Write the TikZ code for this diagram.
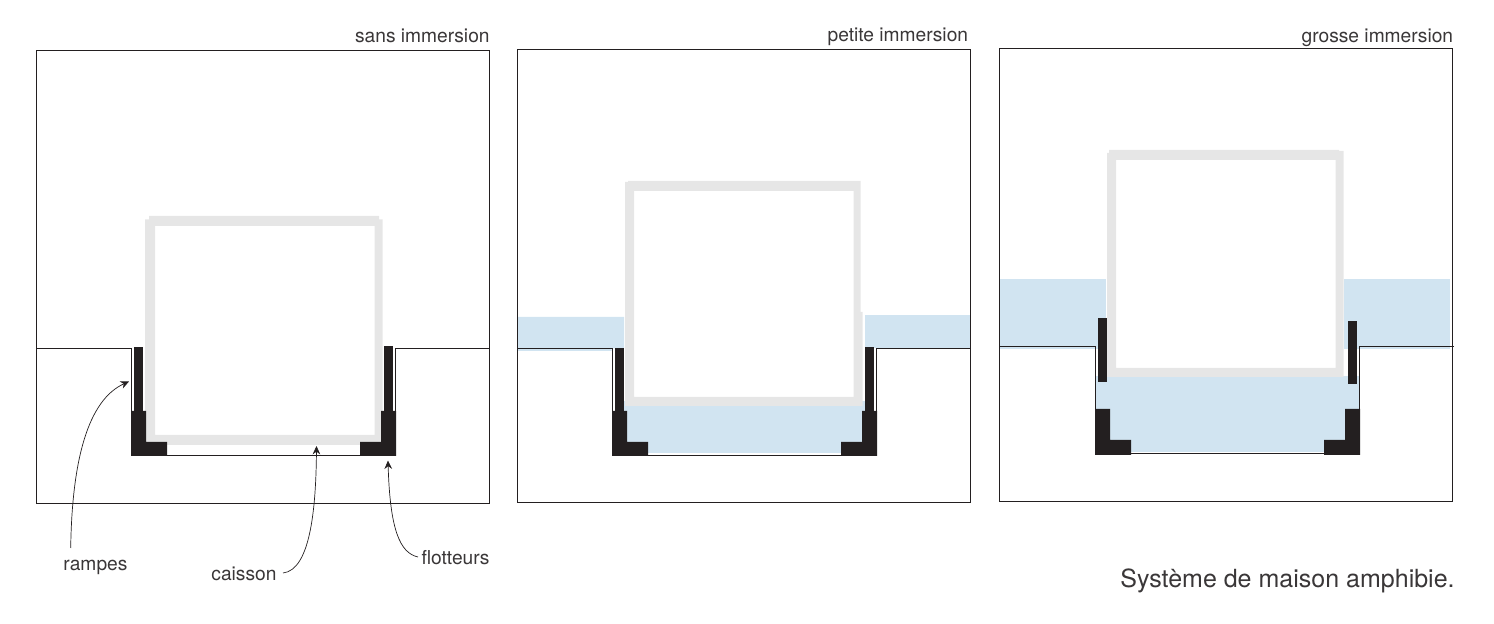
\documentclass[tikz,border=0pt]{standalone}
\usepackage{fontspec}
\setmainfont{TeX Gyre Heros}
\usetikzlibrary{arrows.meta}
\definecolor{ink}{HTML}{231F20}
\definecolor{wall}{HTML}{E6E6E6}
\definecolor{water}{HTML}{D1E4F1}
\definecolor{txt}{HTML}{3A3738}
\tikzset{
  framebox/.style={draw=ink,line width=0.55pt},
  ground/.style={draw=ink,line width=0.55pt},
  solid part/.style={fill=ink,draw=none},
  waterfill/.style={fill=water,draw=none},
  caissonfill/.style={fill=wall,draw=none,even odd rule},
  label/.style={font=\fontsize{9.6pt}{11pt}\selectfont,text=txt,inner sep=0pt,anchor=base},
  title/.style={font=\fontsize{9.6pt}{11pt}\selectfont,text=txt,inner sep=0pt,anchor=base east},
  pointer/.style={draw=ink,line width=0.35pt,-{Stealth[length=4.2pt,width=3.8pt]}},
}
\begin{document}
\begin{tikzpicture}[x=0.5pt,y=-0.5pt]
\useasboundingbox (0,0) rectangle (1494,624);
% ---- panel 1
\draw[framebox] (36.5,50.5) rectangle (489.5,503.5);
\draw[ground] (36.5,348.5) -- (131.5,348.5) -- (131.5,455.5) -- (395.5,455.5) -- (395.5,348.5) -- (489.5,348.5);
\fill[caissonfill] (149,216) -- (379,216) -- (379,219.5) -- (382.5,219.5) -- (382.5,445) -- (145,445) -- (145,219.5) -- (149,219.5) -- cycle
  (155,226) -- (155,435) -- (374.5,435) -- (374.5,226) -- cycle;
\fill[solid part] (134,347.5) rectangle (143,411);
\fill[solid part] (384,346.5) rectangle (393.3,411);
\fill[solid part] (131.3,411) -- (146,411) -- (146,442) -- (167,442) -- (167,456) -- (131.3,456) -- cycle;
\fill[solid part] (396,411) -- (381,411) -- (381,442) -- (360,442) -- (360,456) -- (396,456) -- cycle;
% ---- panel 2
\fill[waterfill] (517.5,317) -- (624,317) -- (624,348.5) -- (611.7,348.5) -- (611.7,351) -- (517.5,351) -- cycle;
\fill[waterfill] (865,315) rectangle (970.5,348.5);
\fill[waterfill] (624,401) rectangle (865,453);
\draw[framebox] (517.5,49.5) rectangle (970.5,502.5);
\draw[ground] (517.5,348.5) -- (612.5,348.5) -- (612.5,455.5) -- (876.5,455.5) -- (876.5,348.5) -- (970.5,348.5);
\fill[caissonfill] (628,181) -- (860.7,181) -- (860.7,312) -- (862.7,312) -- (862.7,406) -- (625,406) -- (625,182) -- (628,182) -- cycle
  (634,191) -- (634,397) -- (853.5,397) -- (853.5,191) -- cycle;
\fill[solid part] (615,348) rectangle (624,411);
\fill[solid part] (865,347) rectangle (874,411);
\fill[solid part] (612.3,411) -- (627,411) -- (627,442) -- (648,442) -- (648,456) -- (612.3,456) -- cycle;
\fill[solid part] (877,411) -- (862,411) -- (862,442) -- (841,442) -- (841,456) -- (877,456) -- cycle;
% ---- panel 3
\fill[waterfill] (999.7,279) rectangle (1106,349);
\fill[waterfill] (1344,279) rectangle (1450,349);
\fill[waterfill] (1095.7,376) rectangle (1359.3,452.3);
\draw[framebox] (999.5,48.5) rectangle (1452.5,501.5);
\draw[ground] (999.5,346.5) -- (1095.5,346.5) -- (1095.5,453.5) -- (1359.5,453.5) -- (1359.5,346.5) -- (1454,346.5);
\fill[caissonfill] (1109,150) -- (1339,150) -- (1339,151) -- (1343.5,151) -- (1343.5,377) -- (1107,377) -- (1107,153) -- (1109,153) -- cycle
  (1116,160) -- (1116,368) -- (1335.5,368) -- (1335.5,160) -- cycle;
\fill[solid part] (1098,318) rectangle (1107,382);
\fill[solid part] (1348,321) rectangle (1357,384);
\fill[solid part] (1095,409) -- (1110,409) -- (1110,440) -- (1131,440) -- (1131,455) -- (1095,455) -- cycle;
\fill[solid part] (1360,409) -- (1345,409) -- (1345,440) -- (1324,440) -- (1324,455) -- (1360,455) -- cycle;
% ---- titles
\node[title] (t1) at (490,42.5) {sans immersion};
\node[title] (t2) at (968.5,42) {petite immersion};
\node[title] (t3) at (1453.5,43) {grosse immersion};
\node[inner sep=0pt,anchor=base east,text=txt,font=\fontsize{12.5pt}{14pt}\selectfont] (cap) at (1455,588) {Système de maison amphibie.};
% ---- labels and pointers
\node[label] (rampes) at (95.5,571) {rampes};
\node[label] (caisson) at (244,581) {caisson};
\node[label] (flotteurs) at (455.5,565) {flotteurs};
\coordinate (rampesTip) at (129,381.5);
\coordinate (caissonTip) at (316.5,446);
\coordinate (flotteursTip) at (388,460.5);
\coordinate (rampesEnd) at (70.7,548);
\coordinate (caissonEnd) at (283,573);
\coordinate (flotteursEnd) at (418,557);
\draw[pointer] (rampesEnd) .. controls (72,460) and (88,400) .. (rampesTip);
\draw[pointer] (caissonEnd) .. controls (310,570) and (316,510) .. (caissonTip);
\draw[pointer] (flotteursEnd) .. controls (400,553) and (390,530) .. (flotteursTip);
\end{tikzpicture}
\end{document}
